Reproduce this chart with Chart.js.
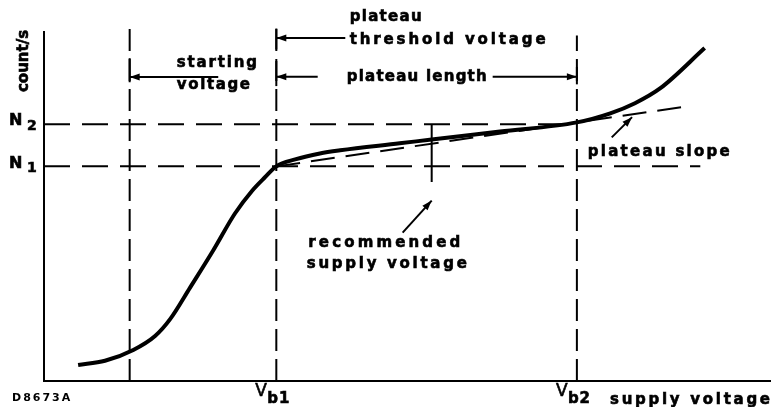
<!DOCTYPE html>
<html>
<head>
  <script src="https://cdn.jsdelivr.net/npm/chart.js"></script>
  <style>
    body { margin: 0; background: #fff; }
    #wrap { width: 774px; height: 407px; }
  </style>
</head>
<body>
  <div id="wrap">
    <canvas id="chartContainer" width="774" height="407"></canvas>
  </div>
  <script>
    // counting curve (supply voltage vs count rate)
    const voltage = [4.7, 8.4, 12.3, 15.3, 17.4, 20.1, 23.3, 26.3, 28.7, 30.4, 32.0, 34.6, 38.0, 40.8, 49.0, 53.4, 62.8, 73.4, 78.0, 81.4, 84.9, 91.0];
    const counts  = [4.6, 5.8, 8.9, 12.9, 17.8, 26.7, 37.4, 48.0, 54.6, 58.3, 61.5, 63.5, 65.2, 66.1, 68.1, 69.2, 71.5, 74.1, 76.7, 79.6, 83.9, 95.4];

    // reference voltages: starting, Vb1, recommended, Vb2
    const refVoltages = [11.8, 32.0, 53.4, 73.4];
    // reference count rates: N1, N2
    const refCounts = [61.5, 73.6];
    // plateau slope line ends
    const slopeVoltages = [32.0, 88.6];
    const slopeCounts = [61.5, 78.7];

    const xTickLabels = ['b1', 'b2'];
    const yTickLabels = ['1', '2'];

    const FONT = 'bold 15px "DejaVu Sans"';
    // w = width the lettering takes in the scan (letters are spaced out to fit)
    const texts = [
      { t: 'starting', x: 18.3, y: 91.1, w: 80 },
      { t: 'voltage', x: 18.3, y: 84.8, w: 73 },
      { t: 'plateau', x: 42.1, y: 104.3, w: 72 },
      { t: 'threshold voltage', x: 42.1, y: 97.7, w: 196 },
      { t: 'plateau length', x: 41.7, y: 87.2, w: 140 },
      { t: 'plateau slope', x: 74.9, y: 65.5, w: 142 },
      { t: 'recommended', x: 36.4, y: 39.4, w: 152 },
      { t: 'supply voltage', x: 36.2, y: 33.6, w: 160 }
    ];
    // [fromX, fromY, toX, toY]
    const arrows = [
      [24.0, 87.1, refVoltages[0], 87.1],
      [41.5, 98.3, refVoltages[1], 98.3],
      [37.7, 87.2, refVoltages[1], 87.2],
      [61.8, 87.2, refVoltages[3], 87.2],
      [78.2, 69.8, 81.0, 75.6],
      [49.4, 42.5, refVoltages[2], 51.7]
    ];
    // small solid stops where the arrows meet the dashed verticals
    const stops = [
      [refVoltages[0], 85.6, 92.5],
      [refVoltages[1], 95.0, 101.0],
      [refVoltages[1], 84.5, 91.7],
      [refVoltages[3], 85.0, 90.0]
    ];

    function seg(x1, y1, x2, y2, dash) {
      return {
        data: [{ x: x1, y: y1 }, { x: x2, y: y2 }],
        borderColor: '#000',
        borderWidth: 2,
        borderDash: dash || [],
        pointRadius: 0,
        tension: 0
      };
    }

    const datasets = [{
      data: voltage.map((v, i) => ({ x: v, y: counts[i] })),
      borderColor: '#000',
      borderWidth: 4,
      pointRadius: 0,
      cubicInterpolationMode: 'monotone'
    }];
    datasets.push(seg(slopeVoltages[0], slopeCounts[0], slopeVoltages[1], slopeCounts[1], [24, 11]));
    datasets.push(seg(0, refCounts[0], 90.4, refCounts[0], [26, 12]));
    datasets.push(seg(0, refCounts[1], refVoltages[3], refCounts[1], [26, 12]));
    datasets.push(seg(refVoltages[0], 0, refVoltages[0], 101, [22, 8]));
    datasets.push(seg(refVoltages[1], 0, refVoltages[1], 101, [22, 8]));
    datasets.push(seg(refVoltages[3], 0, refVoltages[3], 99, [22, 8]));
    datasets.push(seg(refVoltages[2], refCounts[1], refVoltages[2], 57));

    // draw text a bit heavier, like the scanned lettering
    function heavy(ctx, s, x, y) {
      ctx.strokeText(s, x, y);
      ctx.fillText(s, x, y);
    }

    // spread the letters so the word spans about w pixels
    function spread(ctx, s, x, y, w) {
      ctx.letterSpacing = '0px';
      const plain = ctx.measureText(s).width;
      const gap = Math.max(0, (w - plain) / (s.length - 1));
      ctx.letterSpacing = gap.toFixed(2) + 'px';
      heavy(ctx, s, x, y);
    }

    const notes = {
      id: 'notes',
      afterDatasetsDraw(chart) {
        const ctx = chart.ctx;
        const xs = chart.scales.x, ys = chart.scales.y;
        const px = v => xs.getPixelForValue(v);
        const py = v => ys.getPixelForValue(v);
        ctx.save();
        ctx.fillStyle = '#000';
        ctx.strokeStyle = '#000';
        ctx.lineWidth = 2;

        stops.forEach(s => {
          ctx.beginPath();
          ctx.moveTo(px(s[0]), py(s[1]));
          ctx.lineTo(px(s[0]), py(s[2]));
          ctx.stroke();
        });

        arrows.forEach(a => {
          const x1 = px(a[0]), y1 = py(a[1]), x2 = px(a[2]), y2 = py(a[3]);
          const ang = Math.atan2(y2 - y1, x2 - x1);
          ctx.beginPath();
          ctx.moveTo(x1, y1);
          ctx.lineTo(x2, y2);
          ctx.stroke();
          ctx.beginPath();
          ctx.moveTo(x2, y2);
          ctx.lineTo(x2 - 10 * Math.cos(ang) + 3.5 * Math.sin(ang), y2 - 10 * Math.sin(ang) - 3.5 * Math.cos(ang));
          ctx.lineTo(x2 - 10 * Math.cos(ang) - 3.5 * Math.sin(ang), y2 - 10 * Math.sin(ang) + 3.5 * Math.cos(ang));
          ctx.closePath();
          ctx.fill();
        });

        ctx.lineWidth = 0.6;
        ctx.font = FONT;
        ctx.textBaseline = 'middle';
        ctx.textAlign = 'left';
        texts.forEach(o => spread(ctx, o.t, px(o.x), py(o.y), o.w));

        // axis title along x
        spread(ctx, 'supply voltage', 610, 400, 160);

        // V_b1, V_b2 under the axis
        ctx.letterSpacing = '1px';
        [refVoltages[1], refVoltages[3]].forEach((v, i) => {
          const x = px(v);
          ctx.font = '17px "DejaVu Sans"';
          heavy(ctx, 'V', x - 21, 392);
          ctx.font = 'bold 15px "DejaVu Sans"';
          heavy(ctx, xTickLabels[i], x - 9, 399);
        });

        // N1, N2 on the left
        refCounts.forEach((c, i) => {
          const y = py(c);
          ctx.font = 'bold 16px "DejaVu Sans"';
          heavy(ctx, 'N', 9, y - 3);
          ctx.font = 'bold 14px "DejaVu Sans"';
          heavy(ctx, yTickLabels[i], 27, y + 2);
        });

        ctx.font = 'bold 11px "DejaVu Sans"';
        ctx.letterSpacing = '2px';
        ctx.fillText('D8673A', 12, 398);

        // y axis title, rotated
        ctx.letterSpacing = '0px';
        ctx.translate(24, 61);
        ctx.rotate(-Math.PI / 2);
        ctx.textAlign = 'center';
        ctx.font = 'bold 15px "DejaVu Sans"';
        heavy(ctx, 'count/s', 0, 0);
        ctx.restore();
      }
    };

    new Chart(document.getElementById('chartContainer').getContext('2d'), {
      type: 'line',
      data: { datasets: datasets },
      options: {
        responsive: false,
        animation: false,
        layout: { padding: { left: 44, right: 4, top: 32, bottom: 26 } },
        plugins: { legend: { display: false }, tooltip: { enabled: false } },
        datasets: { line: { clip: false } },
        scales: {
          x: {
            type: 'linear', min: 0, max: 100,
            grid: { display: false, drawTicks: false },
            ticks: { display: false },
            border: { display: true, color: '#000', width: 2 }
          },
          y: {
            type: 'linear', min: 0, max: 100,
            grid: { display: false, drawTicks: false },
            ticks: { display: false },
            border: { display: true, color: '#000', width: 2 }
          }
        }
      },
      plugins: [notes]
    });
  </script>
</body>
</html>
